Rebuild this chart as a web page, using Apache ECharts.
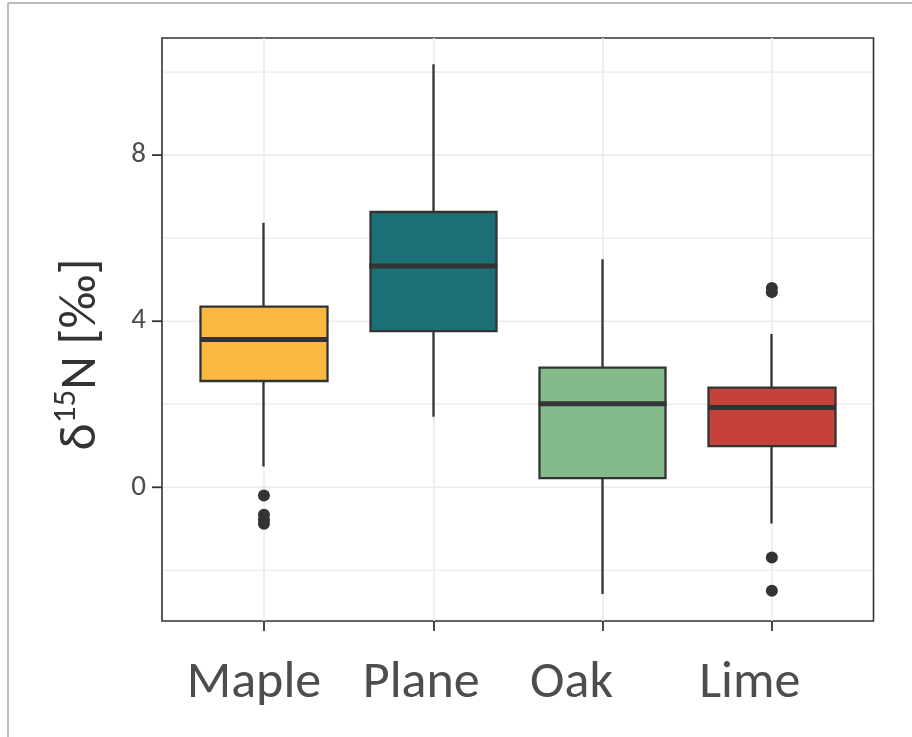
<!DOCTYPE html>
<html><head><meta charset="utf-8">
<script src="https://cdn.jsdelivr.net/npm/echarts@6/dist/echarts.min.js"></script>
<style>html,body{margin:0;padding:0;background:#fff}#c{width:912px;height:737px}</style>
</head><body><div id="c"></div>
<script>
// ---- data ----
const categories = ['Maple', 'Plane', 'Oak', 'Lime'];
const whiskerLow  = [0.50, 1.70, -2.57, -0.87];
const q1          = [2.56, 3.76, 0.22, 0.99];
const median      = [3.56, 5.33, 2.01, 1.92];
const q3          = [4.35, 6.63, 2.88, 2.40];
const whiskerHigh = [6.37, 10.19, 5.49, 3.69];
// outliers: [category index, value]
const outliers = [[0, -0.20], [0, -0.66], [0, -0.78], [0, -0.88], [3, 4.70], [3, 4.80], [3, -1.69], [3, -2.49]];
const yMajorTicks = [0, 4, 8];
const yMinorTicks = [-2, 2, 6, 10];
const yMin = -3.22, yMax = 10.82;

// ---- styles ----
const fills = ['#FBB943', '#1B6F75', '#85BA8B', '#C5423A'];
const labelLeftShift = [10, 12, 31, 22]; // px, labels in the original sit left of their ticks
const FONT = 'Carlito, Lato, sans-serif';
const DARK = '#333333';

const chart = echarts.init(document.getElementById('c'), null, {renderer: 'canvas'});
const gridTop = 38, gridBottom = 116;

const gridData = yMajorTicks.map(v => [1, v, 1]).concat(yMinorTicks.map(v => [1, v, 0]));

const labelRich = {};
labelLeftShift.forEach((s, i) => {
  labelRich['l' + i] = {fontSize: 52, fontFamily: FONT, color: '#4d4d4d', padding: [0, 2 * s, 0, 0]};
});

chart.setOption({
  animation: false,
  backgroundColor: '#ffffff',
  graphic: [
    {type: 'line', shape: {x1: 8, y1: 3, x2: 912, y2: 3}, style: {stroke: '#bdbdbd', lineWidth: 2}},
    {type: 'line', shape: {x1: 8, y1: 3, x2: 8, y2: 737}, style: {stroke: '#bdbdbd', lineWidth: 2}}
  ],
  grid: [
    {left: 162, right: 38.5, top: gridTop, bottom: gridBottom, show: true, borderColor: DARK, borderWidth: 1.6, backgroundColor: 'transparent'},
    {left: 179.3, right: 55.5, top: gridTop, bottom: gridBottom}
  ],
  xAxis: [
    {gridIndex: 0, type: 'value', min: 0.4, max: 4.6, show: false},
    {gridIndex: 1, type: 'category', data: categories, boundaryGap: true, position: 'bottom',
     axisLine: {show: false, onZero: false},
     axisTick: {show: true, interval: 0, alignWithLabel: true, length: 10, lineStyle: {color: DARK, width: 1.8}},
     axisLabel: {interval: 0, hideOverlap: false, fontSize: 52, fontFamily: FONT, color: '#4d4d4d', margin: 37,
       formatter: function (val, idx) { return '{l' + idx + '|' + val + '}'; }, rich: labelRich},
     splitLine: {show: true, interval: 0, alignWithLabel: true, lineStyle: {color: '#ebebeb', width: 1.6}}}
  ],
  yAxis: [
    {gridIndex: 0, type: 'value', min: yMin, max: yMax,
     axisLine: {show: false}, axisTick: {show: false}, axisLabel: {show: false}, splitLine: {show: false},
     name: '{a|δ}{s|15}{a|N [‰]}', nameLocation: 'middle', nameRotate: 90, nameGap: 54,
     nameTextStyle: {padding: [0, 50, 0, 0], rich: {
       a: {fontSize: 52, fontFamily: FONT, color: DARK, lineHeight: 58, verticalAlign: 'bottom'},
       s: {fontSize: 33, fontFamily: FONT, color: DARK, lineHeight: 58, verticalAlign: 'top'}
     }}},
    {gridIndex: 1, type: 'value', min: yMin, max: yMax, show: false}
  ],
  series: [
    {
      type: 'custom', xAxisIndex: 0, yAxisIndex: 0, z: 1, clip: false, silent: true,
      encode: {x: 0, y: 1},
      data: gridData,
      renderItem: function (params, api) {
        const v = api.value(1), major = api.value(2);
        const cs = params.coordSys;
        const y = api.coord([1, v])[1];
        const children = [{type: 'line', shape: {x1: cs.x + 1, y1: y, x2: cs.x + cs.width - 1, y2: y},
          style: {stroke: '#ebebeb', lineWidth: major ? 1.6 : 1.3}}];
        if (major) {
          children.push({type: 'line', shape: {x1: cs.x - 10, y1: y, x2: cs.x, y2: y}, style: {stroke: DARK, lineWidth: 1.8}});
          children.push({type: 'text', x: cs.x - 16, y: y,
            style: {text: String(v), align: 'right', verticalAlign: 'middle', fontSize: 29, fontFamily: FONT, fill: '#4d4d4d'}});
        }
        return {type: 'group', children: children};
      }
    },
    {
      type: 'candlestick', xAxisIndex: 1, yAxisIndex: 1, z: 3, barWidth: '75%',
      itemStyle: {borderColor: DARK, borderWidth: 2.3},
      data: categories.map((c, i) => ({
        value: [q1[i], q3[i], whiskerLow[i], whiskerHigh[i]],
        itemStyle: {color: fills[i], color0: fills[i], borderColor: DARK, borderColor0: DARK, borderWidth: 2.3}
      }))
    },
    {
      type: 'scatter', xAxisIndex: 1, yAxisIndex: 1, z: 5, symbol: 'rect', symbolSize: [128, 5],
      itemStyle: {color: DARK, opacity: 1},
      data: median.map((m, i) => [i, m])
    },
    {
      type: 'scatter', xAxisIndex: 1, yAxisIndex: 1, z: 5, symbol: 'circle', symbolSize: 12,
      itemStyle: {color: DARK, opacity: 1},
      data: outliers
    }
  ]
});
</script></body></html>
